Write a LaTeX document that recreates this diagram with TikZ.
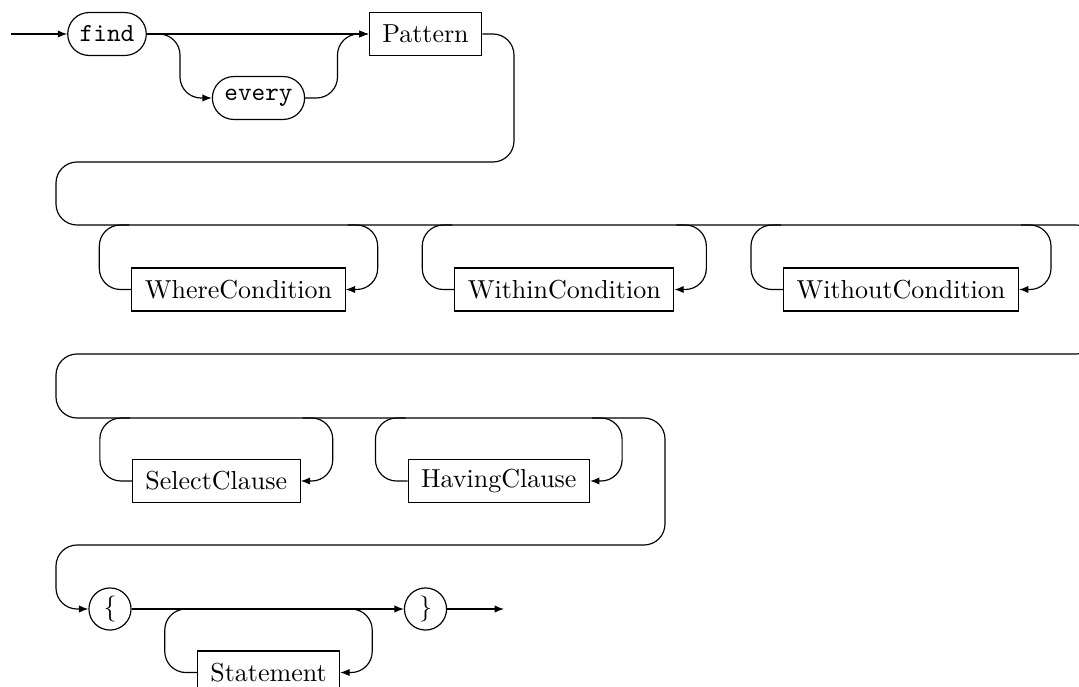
\documentclass[tikz,border=0pt]{standalone}
\usetikzlibrary{arrows.meta}
\tikzset{
  rail/.style={line width=0.45pt, rounded corners=8.1pt},
  tip/.style={-{Latex[length=3.6pt,width=2.8pt]}},
  term/.style={draw, line width=0.45pt, rounded corners=8.2pt, minimum height=16.5pt,
    inner xsep=4.6pt, inner ysep=0pt, font=\ttfamily},
  nterm/.style={draw, line width=0.45pt, minimum height=16.5pt, inner xsep=5pt, inner ysep=0pt},
  tok/.style={draw, circle, line width=0.45pt, minimum size=16.2pt, inner sep=0pt},
}
\newcommand\railloop[2]{%
  \draw[rail] (#1.west) -- ++(-32,0) -- ++(0,-#2) -- ++(30,0);
  \draw[rail,tip] (#1.east) ++(2,-#2) -- ++(30,0) -- ++(0,#2) -- (#1.east);
}
\begin{document}
\begin{tikzpicture}[x=0.3846pt, y=-0.3846pt]
\useasboundingbox (0,0) rectangle (1079,687);
\clip (0,0) rectangle (1079,687);
% nodes
\coordinate (start) at (11,34);
\node[term] (find) at (107,34) {find};
\node[term] (every) at (258.5,98) {every};
\node[nterm] (pat) at (425.5,34) {Pattern};
\node[nterm] (where) at (238.5,289.5) {WhereCondition};
\node[nterm] (within) at (564.3,289.5) {WithinCondition};
\node[nterm] (without) at (901,289.5) {WithoutCondition};
\node[nterm] (select) at (216.3,481) {SelectClause};
\node[nterm] (having) at (498.8,481) {HavingClause};
\node[tok] (lb) at (110,609) {\{};
\node[tok] (rb) at (425.5,609) {\}};
\node[nterm] (stmt) at (268.5,672.5) {Statement};
\coordinate (stop) at (504,609);
% row 1
\draw[rail,tip] (start) -- (find);
\draw[rail,tip] (find) -- (pat);
\draw[rail,tip] (find.east) -- (180,34) -- (180,98) -- (every.west);
\draw[rail,tip] (every.east) -- (337.5,98) -- (337.5,34) -- (pat.west);
% serpentine main line
\draw[rail,tip] (pat.east) -- (514,34) -- (514,162) -- (56,162) -- (56,225)
  -- (1097,225) -- (1097,354) -- (56,354) -- (56,418)
  -- (665,418) -- (665,545) -- (56,545) -- (56,609) -- (lb.west);
% loops
\railloop{where}{64.5}
\railloop{within}{64.5}
\railloop{without}{64.5}
\railloop{select}{63}
\railloop{having}{63}
\railloop{stmt}{63.5}
% row 4
\draw[rail,tip] (lb) -- (rb);
\draw[rail,tip] (rb) -- (stop);
\end{tikzpicture}
\end{document}
